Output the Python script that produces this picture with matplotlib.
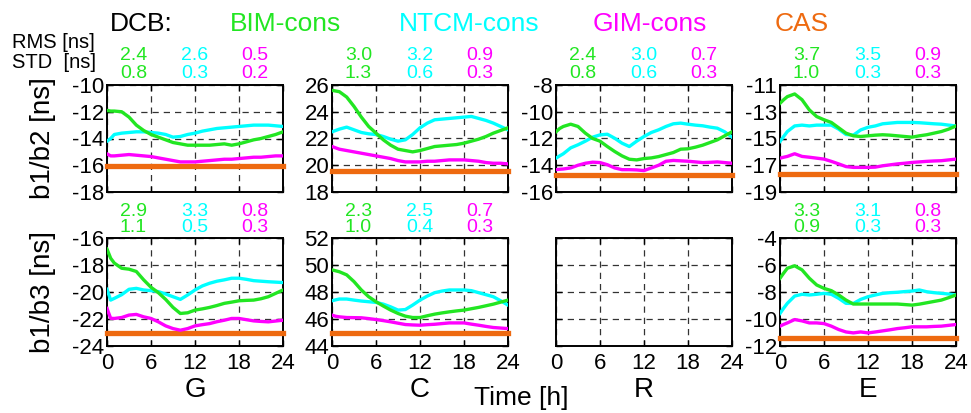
import matplotlib
matplotlib.use("Agg")
import matplotlib.pyplot as plt

plt.rcParams['font.family'] = ['Liberation Sans', 'DejaVu Sans']

HOURS = [0, 0.5] + list(range(1, 25))
SYSTEMS = ["G", "C", "R", "E"]
ROW_LABELS = ["b1/b2 [ns]", "b1/b3 [ns]"]
SERIES = ["BIM-cons", "NTCM-cons", "GIM-cons", "CAS"]
COLORS = ["#22E622", "#00FFFF", "#FF00FF", "#EE6A10"]

# ---- b1/b2 ----
G12_BIM = [-11.9, -11.95, -11.95, -12.0, -12.4, -13.0, -13.4, -13.7, -13.9, -14.1, -14.3, -14.4, -14.5, -14.5, -14.5,
           -14.5, -14.45, -14.4, -14.5, -14.4, -14.25, -14.1, -14.0, -13.85, -13.7, -13.5]
G12_NTCM = [-14.2, -14.0, -13.7, -13.6, -13.55, -13.5, -13.5, -13.55, -13.6, -13.7, -13.9, -13.85, -13.7, -13.6, -13.45,
            -13.35, -13.25, -13.2, -13.15, -13.1, -13.05, -13.0, -13.0, -13.0, -13.05, -13.1]
G12_GIM = [-15.15, -15.3, -15.3, -15.25, -15.2, -15.25, -15.3, -15.35, -15.45, -15.55, -15.65, -15.75, -15.75, -15.75,
           -15.7, -15.65, -15.6, -15.55, -15.55, -15.5, -15.45, -15.4, -15.4, -15.35, -15.3, -15.3]
G12_CAS = -16.05

C12_BIM = [25.6, 25.55, 25.5, 25.1, 24.4, 23.6, 22.9, 22.4, 21.9, 21.5, 21.2, 21.1, 21.0, 21.1, 21.25, 21.4, 21.45,
           21.5, 21.55, 21.65, 21.8, 21.95, 22.15, 22.4, 22.6, 22.8]
C12_NTCM = [22.5, 22.6, 22.7, 22.85, 22.65, 22.45, 22.35, 22.3, 22.15, 21.95, 21.8, 21.9, 22.3, 22.8, 23.15, 23.4, 23.45,
            23.5, 23.55, 23.6, 23.65, 23.5, 23.35, 23.15, 22.9, 22.65]
C12_GIM = [21.4, 21.3, 21.2, 21.1, 21.0, 20.9, 20.8, 20.7, 20.6, 20.5, 20.35, 20.25, 20.25, 20.25, 20.3, 20.3, 20.35,
           20.4, 20.4, 20.4, 20.35, 20.3, 20.2, 20.15, 20.15, 20.1]
C12_CAS = 19.6

R12_BIM = [-11.5, -11.25, -11.1, -10.93, -11.1, -11.6, -12.0, -12.2, -12.6, -12.97, -13.3, -13.55, -13.6, -13.5, -13.45,
           -13.35, -13.2, -13.05, -12.8, -12.77, -12.65, -12.5, -12.3, -12.1, -11.8, -11.5]
R12_NTCM = [-13.47, -13.3, -13.14, -12.7, -12.47, -12.2, -11.9, -11.73, -11.68, -11.98, -12.35, -12.6, -12.2, -11.85,
            -11.55, -11.35, -11.1, -10.9, -10.85, -10.93, -11.0, -11.05, -11.15, -11.23, -11.5, -11.9]
R12_GIM = [-14.33, -14.3, -14.28, -14.2, -14.0, -13.85, -13.77, -13.8, -13.96, -14.2, -14.33, -14.33, -14.35, -14.4,
           -14.2, -14.0, -13.7, -13.64, -13.67, -13.7, -13.75, -13.8, -13.78, -13.75, -13.8, -13.85]
R12_CAS = -14.76

E12_BIM = [-12.37, -12.1, -11.87, -11.67, -12.1, -12.86, -13.36, -13.6, -13.8, -14.2, -14.6, -14.8, -14.85, -14.8,
           -14.75, -14.72, -14.75, -14.8, -14.85, -14.9, -14.8, -14.72, -14.6, -14.48, -14.3, -14.06]
E12_NTCM = [-15.22, -14.85, -14.48, -14.06, -14.0, -14.06, -14.0, -14.0, -14.0, -14.3, -14.7, -14.75, -14.36, -14.16,
            -14.06, -13.9, -13.85, -13.8, -13.8, -13.8, -13.82, -13.86, -13.9, -13.93, -14.0, -14.06]
E12_GIM = [-16.47, -16.4, -16.34, -16.14, -16.34, -16.4, -16.47, -16.54, -16.71, -16.9, -17.1, -17.16, -17.16, -17.16,
           -17.14, -17.04, -16.97, -16.9, -16.85, -16.79, -16.75, -16.71, -16.68, -16.66, -16.6, -16.54]
E12_CAS = -17.63

# ---- b1/b3 ----
G13_BIM = [-16.82, -17.5, -17.86, -18.24, -18.31, -18.48, -19.1, -19.65, -20.05, -20.55, -21.14, -21.59, -21.54, -21.34,
           -21.25, -21.14, -21.0, -20.84, -20.75, -20.65, -20.62, -20.6, -20.5, -20.35, -20.1, -19.85]
G13_NTCM = [-19.8, -20.6, -20.47, -20.2, -19.8, -19.73, -19.85, -19.9, -19.97, -20.15, -20.35, -20.55, -20.22, -19.85,
            -19.55, -19.35, -19.2, -19.1, -18.98, -18.98, -19.06, -19.16, -19.2, -19.24, -19.27, -19.3]
G13_GIM = [-21.22, -21.95, -21.96, -21.89, -21.71, -21.66, -21.84, -21.96, -22.21, -22.51, -22.71, -22.83, -22.71,
           -22.51, -22.42, -22.34, -22.2, -22.09, -21.96, -21.96, -22.05, -22.14, -22.18, -22.21, -22.15, -22.09]
G13_CAS = -23.03

C13_BIM = [49.64, 49.57, 49.5, 49.27, 48.77, 48.15, 47.65, 47.28, 46.96, 46.66, 46.41, 46.21, 46.11, 46.11, 46.24,
           46.36, 46.45, 46.53, 46.6, 46.66, 46.76, 46.86, 46.98, 47.1, 47.25, 47.4]
C13_NTCM = [47.35, 47.42, 47.48, 47.48, 47.4, 47.33, 47.28, 47.23, 47.1, 46.9, 46.66, 46.7, 47.03, 47.4, 47.7, 47.95,
            48.07, 48.15, 48.15, 48.15, 48.1, 47.95, 47.8, 47.65, 47.35, 47.03]
C13_GIM = [46.29, 46.2, 46.16, 46.11, 46.1, 46.09, 46.03, 45.96, 45.88, 45.79, 45.69, 45.59, 45.56, 45.54, 45.58,
           45.61, 45.66, 45.71, 45.71, 45.71, 45.62, 45.54, 45.45, 45.37, 45.33, 45.29]
C13_CAS = 44.97

E13_BIM = [-6.98, -6.6, -6.24, -6.06, -6.36, -6.98, -7.48, -7.73, -7.9, -8.22, -8.6, -8.89, -8.89, -8.89, -8.89, -8.89,
           -8.89, -8.89, -8.93, -8.97, -8.9, -8.8, -8.7, -8.6, -8.42, -8.22]
E13_NTCM = [-9.59, -9.2, -8.84, -8.3, -8.17, -8.22, -8.17, -8.1, -8.17, -8.47, -8.84, -8.85, -8.55, -8.35, -8.22, -8.1,
            -8.05, -8.02, -7.97, -7.93, -7.85, -7.98, -8.05, -8.1, -8.15, -8.22]
E13_GIM = [-10.53, -10.4, -10.29, -10.04, -10.14, -10.29, -10.29, -10.34, -10.53, -10.78, -10.96, -11.03, -10.96,
           -11.03, -10.96, -10.88, -10.8, -10.71, -10.65, -10.58, -10.58, -10.58, -10.55, -10.53, -10.47, -10.41]
E13_CAS = -11.38

# RMS / STD statistics [BIM, NTCM, GIM]
RMS = {(0, "G"): ["2.4", "2.6", "0.5"], (0, "C"): ["3.0", "3.2", "0.9"],
       (0, "R"): ["2.4", "3.0", "0.7"], (0, "E"): ["3.7", "3.5", "0.9"],
       (1, "G"): ["2.9", "3.3", "0.8"], (1, "C"): ["2.3", "2.5", "0.7"],
       (1, "E"): ["3.3", "3.1", "0.8"]}
STD = {(0, "G"): ["0.8", "0.3", "0.2"], (0, "C"): ["1.3", "0.6", "0.3"],
       (0, "R"): ["0.8", "0.6", "0.3"], (0, "E"): ["1.0", "0.3", "0.3"],
       (1, "G"): ["1.1", "0.5", "0.3"], (1, "C"): ["1.0", "0.4", "0.3"],
       (1, "E"): ["0.9", "0.3", "0.3"]}

DATA = {
    (0, "G"): (G12_BIM, G12_NTCM, G12_GIM, G12_CAS),
    (0, "C"): (C12_BIM, C12_NTCM, C12_GIM, C12_CAS),
    (0, "R"): (R12_BIM, R12_NTCM, R12_GIM, R12_CAS),
    (0, "E"): (E12_BIM, E12_NTCM, E12_GIM, E12_CAS),
    (1, "G"): (G13_BIM, G13_NTCM, G13_GIM, G13_CAS),
    (1, "C"): (C13_BIM, C13_NTCM, C13_GIM, C13_CAS),
    (1, "E"): (E13_BIM, E13_NTCM, E13_GIM, E13_CAS),
}
YLIMS = {
    (0, "G"): (-18, -10, 2), (0, "C"): (18, 26, 2), (0, "R"): (-16, -8, 2), (0, "E"): (-19, -11, 2),
    (1, "G"): (-24, -16, 2), (1, "C"): (44, 52, 2), (1, "R"): (0, 8, 2), (1, "E"): (-12, -4, 2),
}

W, H = 971, 413
fig = plt.figure(figsize=(W / 100, H / 100), dpi=100)

col_x = [107, 332, 556, 780]
ax_w = 176
row_y = [(85, 192), (238, 346)]

for r in range(2):
    top, bot = row_y[r]
    for c, sysname in enumerate(SYSTEMS):
        ax = fig.add_axes([col_x[c] / W, 1 - bot / H, ax_w / W, (bot - top) / H])
        lo, hi, step = YLIMS[(r, sysname)]
        ax.set_xlim(0, 24)
        ax.set_ylim(lo, hi)
        ax.set_xticks([0, 6, 12, 18, 24])
        ax.set_yticks([lo + k * step for k in range(int((hi - lo) / step) + 1)])
        ax.grid(True, color='0.2', linestyle=(0, (5, 4)), linewidth=0.9)
        ax.tick_params(direction='in', length=4, width=1, labelsize=16, pad=2,
                       top=True, right=True)
        ax.tick_params(axis='x', pad=5)
        for sp in ax.spines.values():
            sp.set_linewidth(1.4)
        if r == 0:
            ax.set_xticklabels([])
        else:
            ax.set_xlabel(sysname, fontsize=20, labelpad=2)
        if sysname == "R" and r == 1:
            ax.set_yticklabels([])
        else:
            ax.set_yticklabels([f"{int(v)}" for v in ax.get_yticks()])
        if c == 0:
            ax.set_ylabel(ROW_LABELS[r], fontsize=20)
            ax.yaxis.set_label_coords((56 - col_x[c]) / ax_w, 0.5)
        key = (r, sysname)
        if key in DATA:
            bim, ntcm, gim, cas = DATA[key]
            ax.plot([0, 24], [cas, cas], color=COLORS[3], lw=3.8, solid_capstyle='projecting',
                    clip_on=False, zorder=3)
            ax.plot(HOURS, gim, color=COLORS[2], lw=2.4, zorder=4)
            ax.plot(HOURS, bim, color=COLORS[0], lw=2.4, zorder=5)
            ax.plot(HOURS, ntcm, color=COLORS[1], lw=2.4, zorder=4)
            for k, fx in enumerate([0.15, 0.5, 0.84]):
                x_px = col_x[c] + fx * ax_w
                rms_y = top - 29 if r == 0 else top - 26
                std_y = top - 11 if r == 0 else top - 10
                fig.text(x_px / W, 1 - rms_y / H, RMS[key][k], color=COLORS[k], fontsize=14,
                         ha='center', va='center')
                fig.text(x_px / W, 1 - std_y / H, STD[key][k], color=COLORS[k], fontsize=14,
                         ha='center', va='center')

# header legend
fig.text(110 / W, 1 - 24 / H, "DCB:", fontsize=19, color='black', ha='left', va='center')
for name, col, xl in zip(SERIES, COLORS, [230, 399, 593, 775]):
    fig.text(xl / W, 1 - 24 / H, name, fontsize=19, color=col, ha='left', va='center')
fig.text(12 / W, 1 - 42 / H, "RMS [ns]", fontsize=14.5, ha='left', va='center')
fig.text(12 / W, 1 - 62 / H, "STD  [ns]", fontsize=14.5, ha='left', va='center')
fig.text(521 / W, 1 - 398 / H, "Time [h]", fontsize=19, ha='center', va='center')

fig.savefig("out.png", dpi=100)
